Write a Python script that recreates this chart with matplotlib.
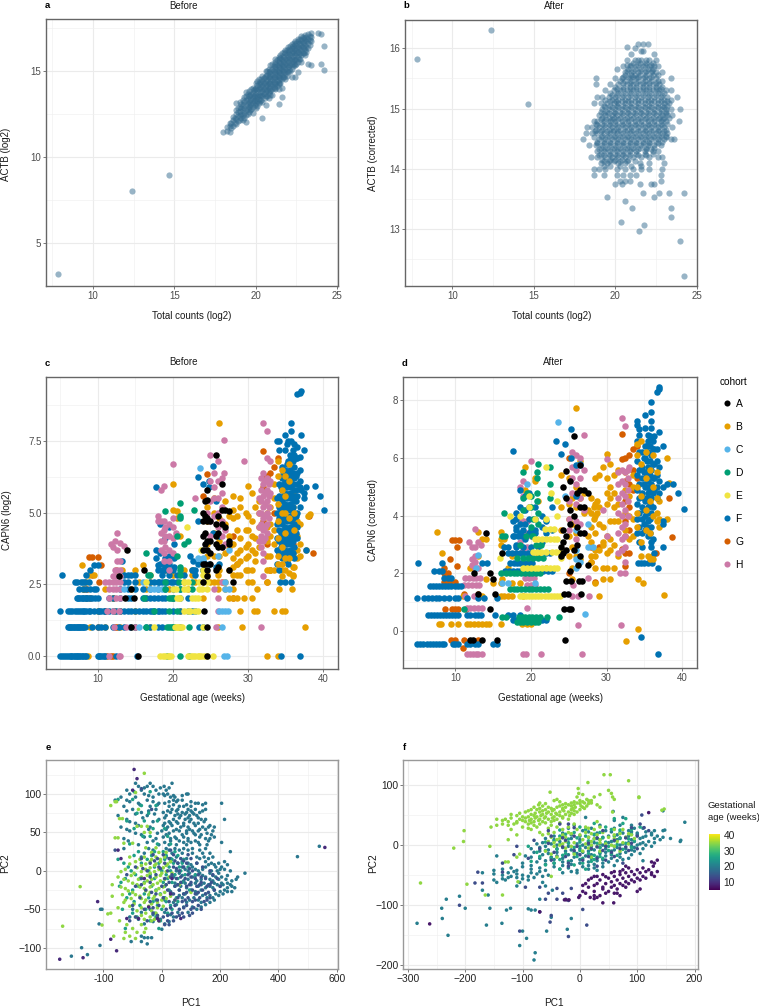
import matplotlib
matplotlib.use("Agg")
import matplotlib.pyplot as plt
from matplotlib.colors import Normalize
from matplotlib.lines import Line2D
from matplotlib.cm import ScalarMappable

plt.rcParams['font.family'] = ['Liberation Sans', 'DejaVu Sans']

W, H = 759, 1008

# ---------- panel a: x -> ACTB values ----------
a_cols = {7.85:[3.15],12.4:[8.0],14.65:[8.9],18.0:[11.4],18.2:[11.5,11.7],18.4:[11.45,11.8,11.95],18.6:[11.8,12.1,12.3],
18.8:[11.9,12.2,12.45,12.7,13.1],19.0:[12.1,12.4,12.65,12.9,13.15],19.2:[12.15,12.4,12.7,13.0,13.3],19.4:[12.0,12.4,12.7,13.0,13.3,13.55,13.75],
19.6:[12.6,12.9,13.2,13.5,13.8],19.8:[12.55,12.9,13.1,13.4,13.7,14.0],20.0:[12.8,13.1,13.4,13.7,14.0,14.3],20.2:[13.1,13.35,13.6,13.9,14.2,14.5],
20.4:[12.25,13.2,13.5,13.8,14.1,14.4,14.7],20.6:[13.0,13.5,13.8,14.1,14.4,14.7,14.95],20.8:[13.4,13.7,14.0,14.3,14.6,14.9,15.1],
21.0:[13.6,13.9,14.2,14.5,14.8,15.1,15.4],21.2:[14.0,14.3,14.6,14.9,15.2,15.5,15.7],21.4:[13.05,13.95,14.3,14.6,14.9,15.2,15.5,15.8],
21.6:[13.45,14.0,14.5,14.8,15.1,15.4,15.7,16.0],21.8:[14.5,14.8,15.1,15.4,15.7,16.0,16.2],22.0:[14.9,15.2,15.5,15.8,16.1,16.4],
22.2:[14.6,15.1,15.4,15.7,16.0,16.3,16.55],22.4:[14.65,15.3,15.6,15.9,16.2,16.5,16.7],22.6:[14.9,15.5,15.8,16.1,16.4,16.7,16.85],
22.8:[15.5,15.9,16.2,16.5,16.8,17.0],23.0:[15.9,16.2,16.5,16.8,17.05],23.2:[15.4,16.3,16.6,16.85,17.1],23.4:[15.35,16.7,16.95,17.2],
23.8:[17.2],24.0:[15.4,17.15],24.2:[16.45,15.05],19.9:[13.25,13.55,13.85],20.5:[13.65,13.95,14.25,14.55],21.1:[14.05,14.35,14.65,14.95,15.25],
21.7:[14.65,14.95,15.25,15.55,15.85],22.3:[15.25,15.55,15.85,16.15,16.45],22.9:[16.05,16.35,16.65,16.95]}
a_cols_more = {18.5:[11.65,11.95],18.7:[11.95,12.25],18.9:[12.05,12.35,12.6,12.85],19.1:[12.25,12.5,12.8,13.05],19.3:[12.25,12.55,12.85,13.15,13.45],19.5:[12.45,12.75,13.05,13.35,13.65],
19.7:[12.75,13.05,13.35,13.65,13.9],20.1:[12.95,13.25,13.55,13.85,14.15,14.4],20.3:[13.3,13.6,13.9,14.2,14.5],20.7:[13.55,13.85,14.15,14.45,14.75,15.0],20.9:[13.8,14.1,14.4,14.7,15.0,15.3],
21.3:[14.1,14.4,14.7,15,15.3,15.6],21.5:[14.25,14.55,14.85,15.15,15.45,15.75,15.9],21.9:[14.7,15,15.3,15.6,15.9,16.2],22.1:[15.0,15.3,15.6,15.9,16.2,16.45],
22.5:[15.4,15.7,16,16.3,16.6],22.7:[15.7,16,16.3,16.6,16.85],23.1:[16.1,16.4,16.7,16.95],23.3:[16.5,16.75,17.0],
19.65:[12.7,13,13.3,13.6],19.95:[13,13.3,13.6,13.9],20.25:[13.25,13.5,13.75,14.05,14.35],20.55:[13.4,13.7,14,14.3,14.6],20.85:[13.6,13.85,14.2,14.5,14.8],
21.15:[13.95,14.2,14.5,14.8,15.1,15.4],21.45:[14.2,14.45,14.75,15.05,15.35,15.65],21.75:[14.6,14.9,15.2,15.5,15.8,16.1],22.05:[15.05,15.35,15.65,15.95,16.25],22.35:[15.4,15.7,16,16.3,16.6],22.65:[15.65,15.95,16.25,16.55],22.95:[16,16.3,16.6,16.9]}

# ---------- panel b: ACTB corrected -> x values ----------
b_rows = {16.3:[12.4],15.82:[7.85],15.08:[14.65],16.08:[21.4,21.7,22.0],16.03:[20.7],16.0:[21.2],15.95:[21.6,21.7],15.9:[21.0,22.4],
15.8:[20.7,21.2,21.4,21.6,21.9,22.1,22.5],15.7:[20.5,20.9,21.3,21.7,22.1,22.4,22.6],15.65:[20.1],15.6:[20.6,21.0,21.4,21.8,22.2,22.5,22.9],
15.5:[18.8,20.0,20.4,20.9,21.3,21.7,22.1,22.5,23.4],15.4:[18.85,19.7,20.2,20.7,21.1,21.5,21.9,22.3,22.7],
15.3:[19.4,19.9,20.3,20.7,21.1,21.5,21.9,22.3,22.7,23.1,23.4],15.2:[18.9,19.2,19.6,20.0,20.4,20.8,21.2,21.6,22.0,22.4,22.8,23.2,23.8],
15.1:[18.7,19.1,19.5,19.9,20.2,20.6,21.0,21.4,21.8,22.2,22.6,23.0,23.3],15.0:[19.2,19.6,20.0,20.4,20.8,21.2,21.6,22.0,22.4,22.8,23.1,23.4,24.0],
14.9:[19.0,19.4,19.8,20.1,20.5,20.9,21.3,21.7,22.1,22.5,22.9,23.2,23.5],14.8:[18.7,18.9,19.3,19.7,20.0,20.4,20.8,21.2,21.6,22.0,22.4,22.8,23.1,23.9],
14.7:[18.3,18.6,19.0,19.4,19.8,20.2,20.6,21.0,21.4,21.8,22.2,22.6,23.0,23.5],14.6:[18.2,18.6,18.9,19.3,19.7,20.1,20.5,20.9,21.3,21.7,22.1,22.5,22.9,23.2],
14.5:[18.0,19.0,19.4,19.8,20.2,20.6,21.0,21.4,21.8,22.2,22.6,23.0,23.4,23.6],14.4:[18.4,18.8,19.2,19.6,20.0,20.4,20.8,21.2,21.6,22.0,22.4,22.8],
14.3:[18.9,19.3,19.7,20.1,20.5,20.9,21.3,21.8,22.3,22.6],14.2:[18.5,18.9,19.4,19.8,20.2,20.6,21.1,21.6,22.1,22.6,22.9],
14.1:[19.1,19.5,20.2,20.6,21.5,22.1,23.0],14.0:[18.7,19.0,19.4,20.1,20.6,21.1,21.6,22.1,22.9],13.9:[18.7,19.3,20.1,20.5,20.9,21.3,22.8],
13.8:[20.3,20.6,20.9,22.8],13.75:[20.0,20.4,21.5,22.2,22.4],13.6:[21.7,22.7,23.3,24.25],13.53:[22.4,19.5],13.46:[20.6],13.35:[21.05,23.45],
13.2:[23.4],13.12:[20.35],13.07:[21.75],12.96:[21.45],12.8:[24.0],12.22:[24.25]}
b_rows_more = {15.75:[21.1,21.5,21.9,22.3],15.65:[20.8,21.2,21.6,22.0,22.3],15.55:[20.6,21.0,21.2,21.5,21.9,22.3,22.6],15.45:[20.3,20.6,21.0,21.4,21.8,22.2,22.6,22.9],
15.35:[20.0,20.5,20.9,21.3,21.7,22.1,22.5,22.9],15.25:[19.7,20.2,20.6,21.0,21.4,21.8,22.2,22.6,23.0],15.15:[19.4,19.8,20.2,20.6,21.0,21.4,21.8,22.2,22.6,23.0,23.4],
15.05:[19.3,19.7,20.1,20.5,20.9,21.3,21.7,22.1,22.5,22.9,23.2],14.95:[19.1,19.5,19.9,20.3,20.7,21.1,21.5,21.9,22.3,22.7,23.1],
14.85:[19.2,19.6,19.9,20.3,20.7,21.1,21.5,21.9,22.3,22.7,23.0,23.3],14.75:[18.8,19.2,19.6,20.0,20.4,20.8,21.2,21.6,22.0,22.4,22.8,23.2],
14.65:[18.8,19.2,19.6,19.95,20.3,20.7,21.1,21.5,21.9,22.3,22.7,23.1],14.55:[19.2,19.6,20.0,20.4,20.8,21.2,21.6,22.0,22.4,22.8,23.1],
14.45:[18.9,19.3,19.7,20.1,20.5,20.9,21.3,21.7,22.1,22.5,22.9],14.35:[19.1,19.5,19.9,20.3,20.7,21.1,21.5,21.9,22.4],14.25:[19.1,19.6,20.0,20.4,20.8,21.3,21.8,22.3],
14.15:[19.2,19.7,20.0,20.4,20.8],14.05:[19.3,19.7,20.3,21.0,21.6]}
b_rows_core = {15.72:[20.7,21.0,21.4,21.8,22.2],15.62:[20.7,21.1,21.5,21.9,22.25],15.52:[20.5,20.8,21.1,21.4,21.8,22.2],15.42:[20.5,20.9,21.3,21.7,22.1,22.5],15.32:[20.1,20.5,20.9,21.3,21.7,22.1,22.5,22.8],
15.22:[19.8,20.1,20.5,20.9,21.3,21.7,22.1,22.5,22.9],15.12:[19.7,20.05,20.4,20.8,21.2,21.6,22.0,22.4,22.8,23.15],15.02:[19.4,19.8,20.2,20.6,21.0,21.4,21.8,22.2,22.6,23.0],
14.92:[19.3,19.65,20.0,20.4,20.8,21.2,21.6,22.0,22.4,22.8,23.1],14.82:[19.1,19.45,19.8,20.2,20.6,21.0,21.4,21.8,22.2,22.6,22.95],14.72:[18.9,19.3,19.7,20.1,20.5,20.9,21.3,21.7,22.1,22.5,22.9],
14.62:[18.75,19.1,19.5,19.85,20.2,20.6,21.0,21.4,21.8,22.2,22.6,23.0],14.52:[18.7,19.1,19.5,19.9,20.3,20.7,21.1,21.5,21.9,22.3,22.7,23.1],14.42:[18.9,19.3,19.7,20.1,20.5,20.9,21.3,21.7,22.1,22.6],
14.32:[19.0,19.4,19.8,20.2,20.6,21.0,21.4,21.9,22.2],14.22:[19.0,19.3,19.7,20.1,20.5,20.9,21.4,21.9],14.12:[19.3,19.6,19.9,20.3,20.7,21.2]}

# ---------- panel c: cohort rows (y -> x) and columns (x -> y) ----------
cF_rows = {0:[5,5.2,5.5,5.8,6,6.3,6.5,6.6,6.9,7,7.2,7.3,7.5,7.6,7.9,8.1,8.3,8.5,10,10.2,10.3,10.6,10.8,11,12.5,15.2,34.4,36.9],
1:[6,6.2,6.3,6.5,6.6,6.8,6.9,7.1,7.2,7.4,7.5,7.7,7.8,8,8.1,8.3,9.2,10,10.5,11,12,12.8,13.5,14.3,15,16.5,17,18,18.5,21,23.5,24],
1.58:[5,6,6.3,6.6,7,7.2,7.5,7.8,8,8.2,8.5,8.8,9,9.5,10,10.2,10.5,10.8,11,11.5,12,12.5,13,13.5,14,14.5,15,15.5,16,16.5,17,17.2,17.5,18,18.2,18.5,19,20,21,22,22.5,23],
2:[7.2,7.4,7.5,7.8,8,8.1,8.4,8.5,8.7,9,9.3,9.6,10,11.5,12,13,14,14.5,16,16.5,17,17.5,18,18.5,19,20,21,22],
2.32:[7.5,8,8.5,9,9.5,9.8,13,14,15,16,17,18,19,20,21],
2.58:[7,7.2,7.8,8,8.3,8.8,13.5,14,15,17,17.5,18,18.2,18.5,19,19.2,19.8,20,20.5,34.3,35,35.8],
2.81:[5.2,8.5,13.5,14,14.5,15,18.5,19.5,20.5,21.5,23],3:[9,18,18.5,19,19.5,20,22.5,23,24],3.17:[9.5,10,18,19]}
cF_cols = {13.3:[3.3],17.8:[3.7,3.4,5.9],18.3:[3.6,3.2,4.6],18.9:[3.4,3.1,4.1],19.5:[3.5,3.2,4.5],20.2:[3.1,3.4,3.9],22.3:[3.5],22.7:[3.3,3.0],
23.3:[3.2,4.7,6.25],24:[3.0,3.3,6.0],24.8:[5.9,6.1,3.2],25.3:[6.65,4.3],25.7:[3.1,5.4],26.2:[3.2,4.2],
33.9:[3.2,3.7,4.1,4.6,5.0,5.5,7.5],34.2:[3.0,3.6,4,4.4,4.8,5.2,5.6,6,7.2,7.5],34.6:[3.4,3.9,4.2,4.6,5,5.4,5.8,6.2,6.6],
35:[3.7,4.1,4.5,4.9,5.3,5.7,6.1,6.5,7.7,7.2],35.4:[3.2,3.6,4,4.4,4.8,5.2,5.6,6,6.4,6.8,7.5],35.8:[3.5,3.9,4.3,4.7,5.1,5.5,5.9,6.3,6.9,7.5,7.85,8.15],
36.2:[3.4,3.8,4.2,4.6,5,5.4,5.8,6.2,6.6,7.0,7.4],36.6:[4.1,4.5,5.0,5.6,6.0,6.4,6.9,7.3,9.15],36.9:[5.2,5.9,6.1,6.5,6.95,9.2],37.1:[9.25,7.7,5.8],37.5:[5.5,5.7,7.2],37.8:[5.9,3.7],39:[5.95],39.6:[5.6],40.2:[5.1],
34.4:[3.8,4.3,4.7,5.1,5.5,5.9,6.3],34.8:[3.6,4,4.4,4.8,5.2,5.6,6,6.4],35.2:[3.3,3.9,4.3,4.7,5.1,5.5,5.9,6.3,6.7,7.4],35.6:[3.7,4.1,4.5,4.9,5.3,5.7,6.1,6.5,7.0],36:[3.6,4,4.4,4.8,5.2,5.6,6,6.4,6.8,7.2],36.4:[4.3,4.9,5.4,5.8,6.3,6.9]}
cB_rows = {0:[8.7,32.5,34.0],1:[9,11,13,15,17,26,29.2,37.6],1.58:[10,12.3,15,21,29,30.8,31.2,33.5,34.5,35],
2:[12,16.5,20,24,27.5,28,28.5,29.5,30.5],2.32:[8,11,14.5,16.5,19.5,22,26,27,28,31.2,34.2,35.9],
2.58:[8.5,15.5,17,21.5,23,25,25.5,26,26.5,27,30,30.5,32.5],2.81:[8.8,9.5,17,20,22.5,24.5,26,28,28.5,29,36],
3:[12.5,13.2,15,19,21.5,22.5,27.5,30,30.5,33,34.5],3.17:[7.9,16]}
cB_cols = {20:[5.1,6.0],20.5:[5.05,4.8],21:[4.2],24.5:[3.5,3.9,5.2,4.7],25.5:[3.5,4.3,5.0,5.5],26.2:[8.15,4.8,4.0,3.5,3.0],27:[5.4,4.6,3.6],27.5:[3.8,4.9,4.2],
28:[5.6,5.1,4.8,3.9,3.4,3.1],28.5:[3.6,4.4,4.9,3.2],29:[5.5,5.2,4.1,3.7,3.3],29.8:[3.0,3.4,3.8,4.4,5.0],30:[5.95,4.9,4.4,3.9,3.5],
30.5:[5.7,4.7,4.2,3.7],31:[5.2,4.1,3.6,3.3],31.5:[5.4,5.0,4.5,3.8],32.5:[3.0,3.5,4.0,4.5,5],33:[3,3.5,4.2,4.6,5.2],33.5:[3,3.9,4.4,5.5,6],
36:[2.8,3.1,3.6,4.2,5.2,5.7],36.5:[3.4,3.7,4.2,4.7],37:[3.5,3.9,4.6],38:[4.9],38.3:[4.95],37.7:[3.7]}
cB_top_cols = {34:[3.2,3.5,4.1,4.7,5.3,6.3,6.8],34.5:[2.8,3.2,3.8,5,5.8,6.5],35:[3,3.4,4.3,5,5.6,6.3],35.5:[2.9,3.4,4.8,6.1,6.7],36.2:[3.1,4.4,5.0]}
cH_rows = {0:[11.5,12.8,13],1:[12.2,13.8,15,25.8,31.8],1.58:[11.2,12,12.8,26],2:[11.5,12.5,13,26],2.32:[11.5,12,12.5,13,25.5],2.58:[11,11.5,12,12.5,13,26.5]}
cH_cols = {11.8:[3.9],12:[3.8,2.8],12.3:[4.0,3.0,2.8],12.6:[4.3,3.7,3.3,3],13:[3.95,3.3,3.0,2.8],13.5:[3.85],
18:[4.7,4.9],18.4:[4.7,4.3,4.0,3.7,5.8],18.8:[4.7,4.4,4,3.6,3.3,5.95],19:[4.5,4.2,3.8],19.5:[4.6,4.2,3.7,3.3,3],20:[6.7,4.8,4.5,4.1,3.6],20.4:[4.3],
23:[5.5],24.5:[5.0],25:[7.0,6.1,5.4,4.7,4.2],25.5:[6.4,5.9,5.5,4.9],26:[6.8,6.1,5.5,5.0,4.5],26.5:[6.2,5.7,5.2,4.7,4.2,3.8],26.8:[7.55,6.4],27:[4.4,3.9],
29.5:[6.8],31.5:[5.5,5,4.5,4],32:[8.15,6.4,6,5.6,5.2,4.8,4.4,4,3.6,3.3,2.8],32.5:[7.85,6.9,6.2,5.8,5.4,5,4.6,4.3],33:[6.8,6.1,5.7],
31.8:[6.2,5.8,5.4,5.0,4.6,4.2,3.8],32.3:[6.1,5.7,5.3,4.9,4.5,4.1],32.8:[6,5.6,5.2,4.8]}
cG_rows = {0:[11.3,12,11.8],1:[12.3,12.6,10],1.58:[11,13],2:[8.5,9,12,28],2.32:[8.2,8.6],2.58:[10.2,32.5],2.81:[9.3],3.17:[10.4],3.46:[8.8,9.3,10]}
cG_cols = {24:[5.6],24.5:[6.35],28:[4.2],28.5:[3.2],32:[7.15,6.2,5.9,4.7],32.5:[6.3,6.2,3.9],33:[6.4,3],33.5:[6.6,5],34:[6.9],36:[3.9],38.2:[4.9],38.7:[3.6]}
cA_cols = {13.9:[3.7],12.9:[2.8],14.5:[2.32,1],13.6:[2],14.8:[2],15.4:[0],16.2:[3],24:[5.0,4.7,4.2,3.7,3.2,2.58],24.2:[1.58],
24.3:[5.4,4.9,4.3,3.9,3.2],24.6:[5.8,5.45,4.8,4.7,4.0,3.7,3.0,2.8,0,1],25:[4.7,4,3.6,3.2],25.7:[7,4.6,4.2,3.9,3],26:[4.9,4.3,3.8,3.1],
26.5:[6,5.1,4.6,3.8],27:[5.1,4.5],27.5:[5.05,4,3.9,3],28:[2.58]}
cC_rows = {0:[26.8,27.2],1:[15.5,20,26.5],1.58:[26.2,26.6,27,27.4],2.32:[13.5,17,17.5,18,18.5,27,27.5],2.58:[16,27]}
cC_cols = {23.6:[6.55],23.4:[3.4],24:[3.4,3.2],26:[3.5],27.5:[3.7]}
cD_rows = {0:[19.2,21,22.2],1:[16.5,19.2,19.5,19.8,20,20.2,22.2],1.58:[17.5,19.5,20.5],2:[16.2,19.5,19.8,20],2.32:[19,21,22.5],2.58:[19,20.8,22.5],2.81:[16.7,17,21],3:[21]}
cD_cols = {19:[5.05],21:[5.35,4.9,4.8,3.1],22.8:[5.1],21.5:[3.9],22:[4],20.5:[4.2,3.5],16.5:[3.6]}
cE_rows = {0:[18.3,18.7,19,19.3,19.5,19.8,22,22.4,22.7,23,23.3,23.5,23.8,24.1,24.5,25.3],1:[17.5,20.3,20.5,20.7,21,21.2,24],1.58:[21.5,22,22.3,23,23.3],2:[20.5,20.8,21,22.5,23,23.3],
2.32:[20,20.4,21.5,21.9,23.5,23.9,24.5],2.58:[16.5,21.5,22,23.5,24,24.5],2.81:[24],3:[24]}
cE_cols = {21.9:[4.5],23.7:[3.7]}

# ---------- panel d ----------
dF_rows = {-0.45:[5,5.4,5.8,6.2,6.6,7,7.4,7.8,8.2,8.5,9.7,10,10.4,11.6,12,12.6,13,15,15.5],
0.55:[6.4,6.8,7.2,7.6,8,8.4,8.8,9.2,9.6,10,10.4,11.6,12,12.6,13,13.4,15.3,17,17.6,18.5],0.4:[17.6,18,21,21.5,22],
1.15:[5,5.9,6.4,6.9,7.4,7.9,8.5,9.2,10,10.4,11.5,13,13.8,15.5],1.55:[6.7,7.1,7.5,7.9,8.3,8.7,9.1,9.5,9.9,10.3,10.7],
1.85:[8.5,9,9.4],2.1:[7.2,7.8,8.3,16.6,17.1,17.6,18.1,18.6,19.1,21,21.6,22.2,22.8],2.35:[5.1,8.3,13.5,14.2,17.3,17.7,18.1,18.6,19.1,19.6,20.2,34.2,34.6,35,35.5,36],
2.7:[17,17.5,18,18.5,19,19.6,20,22,22.5],2.9:[16.5,17,18,19,20,21],3.3:[17.7,18.3,18.8],3.5:[18,19,20,20.5]}
dF_cols = {17.6:[3.3,3.8,6.25],18:[3.0,3.6,4.1,3.9],18.5:[3.4,3.7,4.3,4.9],19.2:[3.2,3.7,4.2,4.7],19.8:[3.4,3.9,4.3,4.8],20.6:[3.4,3.9,4.3],21.5:[3.6,4.0,3.1],
22:[3.8,3.4],22.8:[3.5,4.3],23.3:[6.6],24:[6.15],24.5:[6.5],25.3:[7.0,6.0],26:[5.75,4.7],26.5:[5.8],
34:[3.4,3.9,4.4,4.9,5.4,5.9,6.6,7.3,7.15],34.3:[3.1,3.6,4.1,4.6,5.1,5.6,6.2,6.8,7.0],34.7:[2.9,3.4,3.9,4.3,4.8,5.3,5.7,6.2],
35.1:[3.5,4,4.5,5,5.5,6,6.4,7.5,7.05],35.5:[3.3,3.8,4.3,4.8,5.2,5.7,6.2,6.6,6.8],35.9:[2.9,3.1,3.6,4.1,4.6,5.1,5.6,6.1,6.7,7.05,7.3,7.6,7.95],
36.3:[2.7,4.9,5.3,5.8,6.3,6.75],36.7:[4.6,5,5.4,5.9,6.3,8.3],37:[4.8,5.2,5.7,6.9,8.4,8.45],37.5:[3.7,3.8,5.0,6.4,2.9],38:[5.1],36.8:[2.2,-0.8],39.4:[4.8],40.2:[4.25],38.8:[5.1],34.5:[-0.2],
34.9:[3.7,4.2,4.6,5.1,5.5,6],35.3:[3.6,4.1,4.6,5.0,5.4,5.9,6.4],35.7:[3.4,3.9,4.4,4.9,5.4,5.9,6.4,6.75],36.1:[3.2,4.3,4.8,5.3,5.8,6.3,6.6]}
dB_rows = {-0.35:[32.6],0.08:[34.1],0.25:[7.8,8.1,9.5,10.3,11.5,12,12.5,13,13.5,14,14.5,16,18.8,19.5,20],1.2:[11,13.5,16,16.5,17,17.5,19,29],1.25:[37.6],1.65:[15,16,17.5,18.5,28.5,34.8],1.8:[14,16.2,29.5,30.5,34.2],
2.2:[12,17,22,28.5,29.5,30,31],2.6:[13,17.5,21,28,28.5,35.5,36],3.45:[7.6,13,16],3.2:[13.5,14,16,16.5],3:[16,29.5,31]}
dB_cols = {8.3:[2.7],19.2:[5.7,4.9],20.5:[5.3,5.2],21:[4.5],24:[5.4,4.3,3.5],25:[4.4,3.9,3.3,2.6,5.3],25.5:[4.6,3.7,2.9,2.2,1.8],26:[7.75,5.0,4.3,3.4,2.6],26.5:[4.6,5.9,2.5],27:[4.8,4.1],27.5:[4.2,3.3],
28:[4.6,4.1,3.6,3.1,2.4],28.5:[5.3,4.4,4.0,3.4,2.8],29:[5.4,4.3,3.7,2.8],29.5:[5.7,3.6,3.1],30:[6.15,5.3,4.8,4.4,3.3,2.7],30.5:[5.8,5.0,4.6,3.8,3.2,2.8],
31:[5.4,4.8,4.3,3.8],31.5:[5.6,4.4,3.8,2.6],32.5:[5.5,4.9,4.1,3.5],33:[4.7,4.0,3.2],33.5:[5.4,5.0,3.9,3.3],37:[4.5,3.9,3.6],38:[6.0,3.9],38.3:[5.15],28.3:[4.3,3.9],28.7:[4.5,4.1]}
dB_top_cols = {34:[6.5,6.1,5.0,4.1,3.6],34.6:[6.6,5.8,4.7,3.1,2.6],35.2:[6.2,5.3,4.2,3.5],35.7:[5.6,4.5,3.4,2.5],36.2:[6.1,5.0,4.0,2.5],36.7:[5.5,4.6,4.1,3.8]}
dH_rows = {-0.8:[11.5,11.9,12.3,12.7,13,13.6,19,19.4,21.3,26.7],0.8:[11.5,12,12.5,13,13.5,19.5],0.2:[26.2,31.9],1.2:[11.3,12.5,25.5,26.2,27.7],
1.6:[11.2,11.7,12.2,12.7,13.2,19.5,20,20.5,25.6],1.85:[11.3,11.8,12.3,12.8,13.3,19.2,19.8,20.4,27.5],2.02:[31.8,32.5]}
dH_cols = {11.8:[3.1],12.2:[2.3,2.5,2.9],12.6:[3.55,2.9,2.6,2.2,2.4],13:[3.1,2.2],13.4:[3.0],18.6:[5.0,3.9,3.1],19:[5.2,4.7,3.8,3.4,2.8],19.5:[3.8,3.4,2.9],20:[5.9,3.3,2.7],
25:[4.5,3.9,3.5],25.5:[6.2,5.7,5.3,4.8],26:[6.1,5.6,5.1,4.4,3.8,3.2],26.5:[6.0,5.3,4.6,3.7],27:[6.8,5.6,4.2,3.4],
29.5:[4.2],30:[5.95,3.3],31.5:[5.5,5.1,4.6,4.1,3.4,2.7],32:[7.4,5.6,5.2,4.8,4.4,4.0,3.6,3.2,2.8],32.4:[7.1,5.5,5.1,4.7,4.2,3.7,3.3,2.9,2.4],32.8:[5.6,5.3,4.9,4.5,4.0],33:[5.7]}
dG_rows = {-0.6:[11],-0.3:[9.5,10,11.2,13],0.75:[8.6,9.6,10,10.4,11.4],1.3:[11.2,13],1.7:[8.5,9,9.5,10],2.0:[8.5,9],3.15:[9.6,10,10.5]}
dG_cols = {8.5:[2.2],9.3:[2.5],10.2:[2.25,2.9],25:[6.0,2.0],28:[2.9,2.4],29:[2.9],28.5:[1.7],32:[6.85,5.95,2.85],32.5:[6.0,5.2,4.5,3.8,3.3,2.7,2.25],33:[6.1,5.1,4.3,3.5,2.7],33.5:[6.3,5.6,4.9],34:[6.4,5.3],36.5:[2.7],38.2:[4.6],38.7:[3.25]}
dA_rows = {-0.3:[12,12.4,13.5,15.5,24.5],0.75:[14.6,24.4,25,25.3],1.3:[13,15.2,24.4,24.9,26.6],1.75:[24.6,25.3,26.3,26.7],2.0:[12.5,14.6],2.1:[25.2]}
dA_cols = {14:[3.4],15:[1.8],16.2:[2.7],24:[2.6,2.9],24.3:[3.5,3.1,2.7,5.0],24.7:[5.55,4.6,3.3,2.8],25.2:[5.2,3.7,4.2],25.7:[6.75,4.0,2.8],26.1:[4.8,3.6,3.0],26.5:[5.75,4.9,4.3,3.4,2.6],
27:[4.9,4.3,3.4],27.5:[4.8,2.3],26.2:[2.3]}
dC_rows = {0.6:[27.2],1.65:[16.2,17,20.5],2.2:[12.8,26],2.9:[27.5,28.2]}
dC_cols = {13:[2.65],19.5:[5.1],23.6:[7.25],24.5:[4.7],26:[2.5,2.8,3.5],26.5:[5.75,2.4],27.5:[3.7]}
dD_rows = {0.3:[18.2,18.6,19,19.5,20,20.5,21],0.5:[16.2,16.7,18.4,18.8,19.2,19.7,20.2,20.7,21.2,22.1,23.7],0.75:[11.2],
1.45:[17.2,17.7,18.2,18.7,19.2,19.7,20.2,20.7,21.2,21.7,22.2],2.0:[16.1,16.7,17.2,17.7,18.2,18.7,19.2,19.7,20.2,20.7,21.2],2.55:[18.2,18.9,19.6,20.3,21,21.6],3.3:[16.2,16.6,19.4,20.2],3.0:[18.5,20.7,21.3]}
dD_cols = {16.5:[4.1],19:[5.5,4.6,4.2],19.5:[4.8],20:[4.7,4.3,3.6],20.8:[5.5,5.3,4.8,4.5],21:[4.1,3.7,5.8],22.5:[5.7,5.1,4.6],20.3:[3.9,3.3]}
dE_rows = {1.2:[18.6,19,19.4,19.8,20.2,20.6,21,21.4,21.8,22.2,22.6,23,23.4,23.8],2.2:[19,19.5,20,20.5,21,21.5,22,22.5,23,23.5],2.75:[20.3,20.8,21.3,22,22.8,23.3,23.8],
3.2:[20.5,21,21.5,22,22.5,23,23.5],3.55:[21.8,22.5,23],2.55:[15.9,24]}
dE_cols = {17.3:[4.0],18.5:[4.0],19.8:[4.3,4.7],20.5:[3.9],22:[5.7,3.9],22.6:[4.8],23.5:[4.5,4.0]}

# ---------- panel e: ages per group, rows PC2 -> PC1 ----------
e_age_teal, e_age_green, e_age_blue, e_age_purple, e_age_lime = 19, 25, 14, 9, 35
e_teal = {114:[-90,-40,35],110:[-80,-50,-30,8],105:[-120,-70,-20,15],100:[-110,-60,-10,5,20,85,90],96:[-140,-90,-30,30,45],92:[-160,-120,-50,40,55,70],
88:[-80,-10,10,115,125,150,205],84:[-130,-40,25,60,75,100],80:[-100,-20,35,55,90,115,150],76:[-70,5,30,70,85,105,130],72:[-150,-50,15,45,65,95,120],
67:[-120,-10,40,80,100,135,150,215],62:[-90,10,30,55,75,110,125],57:[-140,-40,20,65,90,140,160,180],52:[-110,0,40,60,85,105,125,175],47:[-70,15,70,115,135,170],
42:[-130,-20,30,50,90,150,165],37:[-50,10,75,100,125,205],32:[-100,5,40,65,110,145,170],27:[-30,25,60,90,130],25:[235],18:[-70,15,50,120,145,175],12:[30,70,150,215],
8:[100,160,180,225],2:[80,115,140,200,215],-3:[60,95,130,165,195,285],-8:[40,105,150,185,205,260],-13:[75,120,175,240],-18:[55,100,135,160,190,210,235],
-22:[85,150,175,225,250],-27:[30,115,200,225,240],-32:[60,140,165,195],-38:[95,125,180,-20,10],-44:[50,150],-50:[-210,-205,-100,-40,120],-57:[-30,30],-63:[-80,-5],
-69:[-215,-60,10],-76:[0],-85:[-70],-87:[-60,-48,-35],-92:[-105,-70],-95:[-50],-100:[-275],-97:[-212],-111:[-310],-109:[-255],18.5:[465],32:[540]}
e_teal_more = {108:[-60,-5,25],98:[-45,10,40,70],90:[-110,-30,25,50,100],86:[-75,-15,40,85,140],78:[-120,-45,20,50,100,140],74:[-90,-25,55,80,110],69:[-65,10,60,90,125],64:[-110,-30,25,50,95,145],
59:[-80,5,35,75,115,165],54:[-120,-45,15,50,95,130,150],49:[-90,-15,25,85,110,155],44:[-60,5,45,75,130,180],39:[-115,-30,30,60,90,115,160],34:[-80,-10,25,50,85,130,155],29:[-130,-45,15,45,75,105,150],
23:[-60,35,70,105,140,165],16:[30,85,130,160],10:[55,90,120,170,195],5:[70,105,150,185,205],0:[50,90,125,170,190,235],-6:[70,115,140,175,225],-11:[90,135,165,195,220,255],-16:[45,80,115,145,180,205,225],
-20:[65,125,165,200,240],-25:[100,135,180,215],-30:[80,120,150,185,210],-35:[70,110,155,175],-41:[40,85,135,165],-47:[75,105,135],-54:[-70,10,55,90],-60:[-110,-15,40],-66:[-30,25]}
e_green = {103:[-95,-40],93:[-150,-100],85:[-70,-20],75:[-85,-45],65:[-120,-60,-15],55:[-95,-30,10],45:[-65,-40,20],35:[-110,-15,30],25:[-80,-25,5,45],15:[-150,-50,10,35,75],
5:[-115,-25,25,60,90],-5:[-90,-40,15,45,80,115],-15:[-140,-60,5,35,70],-25:[-100,-20,25,60,95],-35:[-120,-45,10,50],-45:[-75,-15,30],-55:[-100,-25,20],-65:[-40,-5],-75:[-125,-10],
20:[-95,-35,15,55],10:[-130,-70,-10,40,70],0:[-105,-45,0,30,65],-10:[-125,-75,-25,20,55],-20:[-145,-80,-35,10,45],-30:[-110,-60,-5,35,75],-40:[-95,-30,15,55],-50:[-135,-55,0,35],-60:[-85,-20]}
e_blue = {107:[-70],80:[-35],27:[-160,30],21:[-30,5,40,90],16:[-70,-15,25,65,100],10:[-40,10,55,85,120],5:[-90,-10,40,75,140],0:[-50,20,60,105,165],-5:[-120,-20,35,90,125,175],
-10:[-70,10,50,80,115,150,190],-15:[-40,25,65,100,135,170],-20:[-90,0,45,85,120,155,200],-25:[-55,20,60,105,140,180],-30:[-20,40,75,115,150],-35:[-75,5,55,90,130,165],
-40:[-40,25,70,105,145],-45:[-100,-10,45,85,125],-50:[-60,15,60,100,135],-55:[-30,35,70,105],-60:[-90,5,50,75],-65:[-110,-50,20,40],-70:[10,25],
-8:[-40,30,65,100,135],-18:[-70,15,55,95,130,165],-28:[-35,30,85,125,160],-38:[-15,45,80,115,155],-48:[-30,30,75,110],-58:[-15,20,60,95],3:[-65,-5,50,95],13:[-25,45,75]}
e_purple = {132:[-95],120:[-85],105:[-100],27:[-150],16:[-140],-115:[-350],-113:[-270],-104:[-155],-89:[-175],-40:[-220],30.5:[559],-10:[-60,35],-30:[30],-47:[-45],-62:[-120,-80,-15,65],-65:[-10]}
e_lime = {127:[-60],102:[-90],90:[-160,-155],85:[-175],80:[-80],68:[-145,-135],58:[-85,-70,-50],50:[-60,-40],43:[-160,-150],36:[-130,-100],30:[-55,-20],24:[-35,-10,15],
18:[-110,-60,-20,10],12:[-90,-40,-5,30],7:[-70,-25,15],2:[-125,-55,-10],-3:[-95,-40,0,35],-8:[-150,-70,-20,25],-13:[-115,-50,-5],-18:[-170,-85,-30,15,60],-23:[-125,-60,-10],
-28:[-100,-40,10,100],-33:[-170,-75,-25,30],-38:[-125,-55,0,45],-43:[-95,-35],-48:[-150,-70,-15],-55:[-175,-55,-20],-60:[-90,-40],-65:[-145,-35,-10],-70:[-120,-70],
-75:[-100,-55],-80:[-125,-85,-60],-85:[-165,-110],-88:[-130,-90],-20.5:[-280],-72:[-340],-70.5:[-205],-56:[-185],
15:[-75,-35,-5],9:[-110,-55,-20,20],4:[-85,-40,5],-1:[-140,-70,-25,15],-6:[-105,-50,-5],-11:[-130,-80,-35,10],-16:[-100,-60,-15],-21:[-140,-75,-40,5],-26:[-115,-55,-20],-31:[-135,-90,-45,-5],-36:[-105,-70,-30,15],-41:[-130,-60,-15],-46:[-110,-45,5],-52:[-85,-35],-58:[-70,-15],-63:[-60,-25]}

# ---------- panel f ----------
f_age_teal, f_age_green, f_age_blue, f_age_purple, f_age_lime = 20, 26, 13, 7, 35
f_lime = {117:[42,53],107:[85],104:[14],94:[-3],91:[50],88:[-52],86:[-2,55],84:[5,35],80:[103,-5,57,25],76:[-40,12,60],74:[-45,0,15,20],70:[-70,-15,-5,8,20],
67:[-72,-30,-20,-10,30],63:[-80,-55,-40,-25,-8,5,35],59:[-85,-75,-60,-45,-30,-15,0],55:[-95,-70,-55,-35,-20,-5,57],51:[-120,-85,-65,-50,-40,-25,-10],47:[-100,-90,-75,-60,-45,-30],
43:[-145,-130,-105,-85,-70,-55,-40,-20],39:[-125,-110,-95,-80,-65,-50,30],35:[-135,-115,-90,-70,-10],30:[-155,-100,-75,-40,-20,10,35],26:[-120,-85,-30,-5,25,60,75],24:[-202],
21:[-70,-45,-20,10,40],17:[-110,-65,-30,0,30,60,90],13:[-50,-25,15,50,80],9:[-125,-40,5,35],6:[-203,-55,-25,20,65],2:[-30,10,45,85],-2:[-157,-45,-15,30,60],-5:[-220,-25,15],-10:[-60,5,35,70],
-15:[-105,-50,-10],-20:[-110,-40,20],-28:[-125,-130],-52:[-50],-61:[-108],-63:[-278],-65:[-197],-83:[-135,-165],79:[103],60:[147],58:[143]}
f_lime_more = {72:[-35,-10,5,18],69:[-60,-25,0,15],65:[-65,-35,-15,2,12],61:[-70,-50,-30,-12,8],57:[-90,-65,-48,-28,-10],53:[-105,-78,-58,-42,-15],49:[-110,-80,-68,-35,-18],45:[-120,-95,-78,-62,-48,-30],41:[-135,-100,-88,-72,-45],37:[-110,-85,-60,-35],33:[-145,-125,-80,-50],28:[-90,-55,15],19:[-55,-15,20,70,85],11:[-35,25,60,95],4:[-45,-10,35,75],0:[-35,20,55]}
f_teal = {56:[58],46:[10,75],41:[60],33:[-10,35,70,90],28:[-20,20,60,95,110],24:[5,45,85,130,145],20:[-30,30,75,100,125],15:[-45,0,50,85,115,135],11:[-60,-15,30,70,105,130,158],
6:[-35,15,55,95,120,175],2:[-75,-50,-5,35,75,105],-2:[-60,-20,20,60,90,125],-6:[-85,-40,0,45,80,110],-10:[-70,-25,15,55,95],-14:[-55,-5,35,70,105],-18:[-95,-40,10,45,-145],
-22:[-70,-30,20,55,85],-26:[-60,-15,30,65,110],-30:[-100,-45,0,40],-34:[-85,-30,15,60],-38:[-120,-70,-20,25],-42:[-150,-110,-60,-5,30],-46:[-170,-125,-85,-30,-5],-50:[-135,-100,-55],
-54:[-125,-110,-80],-58:[-150,-130,-90],-62:[-145,-105,-65],-68:[-110,-60],-75:[-170,-48],-83:[-160],-90:[-233,-70],-85:[-210],-105:[-241,-200,-157,-121],-108:[-128,-85,-78],-122:[-240,-15],
-106:[-90],-120:[-50],-130:[-284,-136],-133:[-163],-143:[-100,-58],-140:[-22],-150:[-230],-155:[-93],-167:[-105],-179:[-78],-191:[-80],38:[183],8:[176],57:[145],25:[148]}
f_teal_more = {22:[15,55,90,115],17:[-15,25,65,100,125],13:[-30,15,40,80,110,145],9:[-45,0,35,65,90,140],4:[-65,-20,25,50,85,110,130],0:[-40,5,40,70,100,115],-4:[-70,-30,10,35,65,95],-8:[-55,-15,25,60,90],-12:[-80,-40,5,45,80],
-16:[-65,-20,20,55,90],-20:[-85,-50,-10,30,70],-24:[-45,0,40,75],-28:[-75,-30,15,50],-32:[-60,-15,25],-36:[-100,-45,5,40],-40:[-135,-85,-35,15],-44:[-115,-70,-15],-48:[-150,-110,-75],-52:[-120,-90,-65],-56:[-135,-100]}
f_green = {44:[60,80],36:[25,75],30:[0,45,105],25:[-35,70],18:[-25,25,90],12:[-5,40,70],7:[-45,15,60,95],3:[-20,30,80],-2:[-90,0,50],-7:[-40,20,75],-12:[-75,-10,35],-17:[-30,25,65],-22:[-50,5,40],
-27:[-85,-20,20],-33:[-60,-10],-40:[-35,10],26:[10,55,90],21:[-10,35,70],15:[-35,10,60],10:[-20,25,85],5:[-60,0,45],1:[-35,15,65],-4:[-10,35,90],-9:[-60,0,50],-14:[-25,15,55],-19:[-70,-5,35],-24:[-35,25],-30:[-45,5]}
f_blue = {50:[108],35:[-35,-20,105],29:[-10,90,112],24:[-55,40,120],15:[-50,-10,100],8:[-80,-25,60],-2:[-110,-5,45],-6:[-70,20,70,100],-12:[-45,55],-16:[-115,0],-22:[-90,30],-30:[-135,-20,75],
-45:[-178,-135],-63:[-183,-170],-70:[-95,-70],-72:[-15,-40],-80:[-30,-55],-90:[-60,-25,-40],-92:[-20],-100:[-210],-107:[5],-111:[-70],-117:[-50],-128:[-52],-143:[-105],-152:[-20],-133:[12],
3:[-55,15,90],-3:[-30,30,80],-9:[-10,40,85],-19:[-25,15,60],-25:[-50,5,45],-35:[-20,30],12:[-30,30,80]}
f_purple = {54:[120],-25:[135],-28:[125],-30:[130],-35:[80,128],-38:[85,110],-41:[75,100,120],-44:[60,90,115,135,70],-46:[55,80,105,125],-49:[40,70,95,125],-52:[30,60,85,110,130,25],
-55:[20,50,75,100,115],-58:[15,35,65,90,105],-61:[55,80,95],-64:[10,30,45,70,85],-67:[5,25,60,75],-70:[15,40,55,80],-73:[40,65,105],-77:[5,25,50,100],-80:[10,45,60,65],-84:[0,25,35,70],
-87:[-2,18,30],-89:[25],-96:[40,59],-52.5:[45],-91:[-27,-24,-19],-111:[-70],-131:[-262]}

# ---------- axis tick values and labels ----------
cohort_names = ['A', 'B', 'C', 'D', 'E', 'F', 'G', 'H']
cohort_colors = ['#000000', '#E69F00', '#56B4E9', '#009E73', '#F0E442', '#0072B2', '#D55E00', '#CC79A7']
point_color = '#336B8F'
e_xticks, e_xlabels = [-200, 0, 200, 400, 600], ['-100', '0', '200', '400', '600']
cbar_ticks = [10, 20, 30, 40]


def px_axes(l, t, r, b):
    return fig.add_axes([l / W, 1 - b / H, (r - l) / W, (b - t) / H])


def from_rows(d):
    xs = [x for y, v in d.items() for x in v]
    ys = [y for y, v in d.items() for x in v]
    return xs, ys


def from_cols(d):
    xs = [x for x, v in d.items() for y in v]
    ys = [y for x, v in d.items() for y in v]
    return xs, ys


def style(ax, xt, yt, xm, ym, xlim, ylim, size=7.0, lc='#4D4D4D', spine='#666666'):
    ax.set_xlim(*xlim); ax.set_ylim(*ylim)
    ax.set_xticks(xt); ax.set_yticks(yt)
    ax.set_xticks(xm, minor=True); ax.set_yticks(ym, minor=True)
    ax.grid(True, which='major', color='#EBEBEB', lw=0.8)
    ax.grid(True, which='minor', color='#F0F0F0', lw=0.45)
    ax.tick_params(which='minor', length=0)
    ax.tick_params(which='major', length=2, width=0.5, color='#444444', labelsize=size, labelcolor=lc, pad=1.5)
    ax.set_axisbelow(True)
    for s in ax.spines.values():
        s.set_color(spine); s.set_linewidth(1.0)


def T(x, y, s, **k):
    k.setdefault('fontsize', 7.0)
    k.setdefault('ha', 'center')
    k.setdefault('va', 'center')
    k.setdefault('color', '#1A1A1A')
    fig.text(x / W, 1 - y / H, s, **k)


fig = plt.figure(figsize=(W / 100, H / 100), dpi=100)

# a
ax = px_axes(45.5, 19, 338, 286)
style(ax, [10, 15, 20, 25], [5, 10, 15], [7.5, 12.5, 17.5, 22.5], [7.5, 12.5, 17.5], (7.08, 25.05), (2.47, 18.0))
x, y = from_cols(a_cols)
x2, y2 = from_cols(a_cols_more)
ax.scatter(x + x2, y + y2, s=20, c=point_color, alpha=0.5, linewidths=0)
# b
ax = px_axes(404.7, 19.5, 697.3, 286)
style(ax, [10, 15, 20, 25], [13, 14, 15, 16], [7.5, 12.5, 17.5, 22.5], [12.5, 13.5, 14.5, 15.5], (7.08, 25.04), (12.05, 16.48))
x, y = from_rows(b_rows)
x2, y2 = from_rows(b_rows_more)
x3, y3 = from_rows(b_rows_core)
ax.scatter(x + x2 + x3, y + y2 + y3, s=20, c=point_color, alpha=0.5, linewidths=0)

# c
ax_c = px_axes(46.3, 376.7, 338, 668.7)
style(ax_c, [10, 20, 30, 40], [0, 2.5, 5, 7.5], [5, 15, 25, 35], [1.25, 3.75, 6.25, 8.75], (3.16, 42.0), (-0.455, 9.755))
ax_c.set_yticklabels(['0.0', '2.5', '5.0', '7.5'])
c_layers = [('G', cG_rows, cG_cols), ('B', cB_rows, cB_cols), ('F', cF_rows, cF_cols), ('B', {}, cB_top_cols), ('H', cH_rows, cH_cols),
            ('C', cC_rows, cC_cols), ('D', cD_rows, cD_cols), ('E', cE_rows, cE_cols), ('A', {}, cA_cols)]
for name, r, c in c_layers:
    xr, yr = from_rows(r); xc, yc = from_cols(c)
    ax_c.scatter(xr + xc, yr + yc, s=22, c=cohort_colors[cohort_names.index(name)], linewidths=0)

# d
ax_d = px_axes(403.3, 376.7, 697.3, 667.7)
style(ax_d, [10, 20, 30, 40], [0, 2, 4, 6, 8], [5, 15, 25, 35], [-1, 1, 3, 5, 7], (3.13, 42.0), (-1.27, 8.82))
d_layers = [('G', dG_rows, dG_cols), ('B', dB_rows, dB_cols), ('H', dH_rows, dH_cols), ('F', dF_rows, dF_cols), ('B', {}, dB_top_cols),
            ('D', dD_rows, dD_cols), ('E', dE_rows, dE_cols), ('C', dC_rows, dC_cols), ('A', dA_rows, dA_cols)]
for name, r, c in d_layers:
    xr, yr = from_rows(r); xc, yc = from_cols(c)
    ax_d.scatter(xr + xc, yr + yc, s=22, c=cohort_colors[cohort_names.index(name)], linewidths=0)

# e, f
norm = Normalize(4.6, 41)
ax = px_axes(46.3, 760.3, 337.7, 969)
style(ax, e_xticks, [-100, -50, 0, 50, 100], [-300, -100, 100, 300, 500], [-75, -25, 25, 75, 125], (-396, 603), (-127.7, 143.9),
      size=7.4, lc='#222222', spine='#999999')
ax.set_xticklabels(e_xlabels)
for group, age in [(e_teal, e_age_teal), (e_teal_more, e_age_teal), (e_green, e_age_green), (e_lime, e_age_lime), (e_blue, e_age_blue), (e_purple, e_age_purple)]:
    x, y = from_rows(group)
    ax.scatter(x, y, s=6.5, c=[age] * len(x), cmap='viridis', norm=norm, linewidths=0)

ax = px_axes(403.3, 760.3, 698, 969)
style(ax, [-300, -200, -100, 0, 100, 200], [-200, -100, 0, 100], [-250, -150, -50, 50, 150], [-150, -50, 50], (-308, 206), (-206, 141),
      size=7.4, lc='#222222', spine='#999999')
for group, age in [(f_teal, f_age_teal), (f_teal_more, f_age_teal), (f_green, f_age_green), (f_lime, f_age_lime), (f_lime_more, f_age_lime), (f_blue, f_age_blue), (f_purple, f_age_purple)]:
    x, y = from_rows(group)
    ax.scatter(x, y, s=6.5, c=[age] * len(x), cmap='viridis', norm=norm, linewidths=0)

# colourbar
cax = px_axes(709, 833.7, 720, 890)
cb = fig.colorbar(ScalarMappable(norm=norm, cmap='viridis'), cax=cax, ticks=cbar_ticks)
cb.outline.set_visible(False)
cb.ax.tick_params(length=0, labelsize=7.4, labelcolor='#222222', pad=2.5)
T(707.7, 806, 'Gestational', ha='left', fontsize=6.8)
T(707.7, 817.5, 'age (weeks)', ha='left', fontsize=6.8)

# legend
handles = [Line2D([], [], ls='', marker='o', ms=4.4, mfc=c, mec=c, mew=0) for c in cohort_colors]
leg = fig.legend(handles, cohort_names, title='cohort', loc='upper left', bbox_to_anchor=(716.5 / W, 1 - 373.5 / H),
                 frameon=False, fontsize=7.4, title_fontsize=7.2, labelspacing=1.26, handletextpad=0.15,
                 handlelength=1.4, borderpad=0.3, borderaxespad=0)
leg._legend_box.align = 'left'
leg._legend_box.sep = 9

# texts
T(183, 6, 'Before'); T(554, 6, 'After'); T(184, 362, 'Before'); T(553, 362, 'After')
for x, y, s in [(47, 6, 'a'), (406, 6, 'b'), (47, 363, 'c'), (405, 363, 'd'), (48, 747, 'e'), (404, 747, 'f')]:
    T(x, y, s, fontweight='bold', fontsize=6.8, color='black')
T(192, 316, 'Total counts (log2)'); T(552, 316, 'Total counts (log2)')
T(6, 154, 'ACTB (log2)', rotation=90); T(373, 153, 'ACTB (corrected)', rotation=90)
T(192, 698, 'Gestational age (weeks)'); T(550, 698, 'Gestational age (weeks)')
T(7, 520, 'CAPN6 (log2)', rotation=90); T(373, 520, 'CAPN6 (corrected)', rotation=90)
T(191, 1003, 'PC1', fontsize=7.2); T(554, 1003, 'PC1', fontsize=7.2)
T(5, 863, 'PC2', rotation=90, fontsize=7.2); T(373, 863, 'PC2', rotation=90, fontsize=7.2)

fig.savefig('out.png', dpi=100)
